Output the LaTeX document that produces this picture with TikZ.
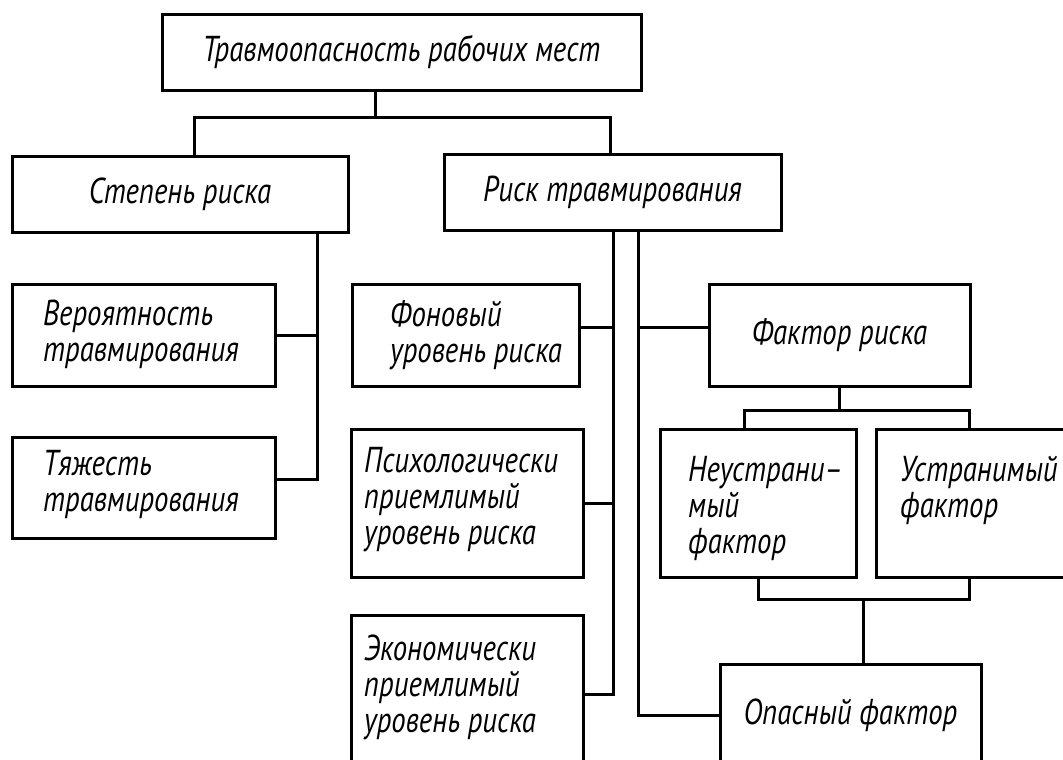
\documentclass[tikz,border=0pt]{standalone}
\usepackage{fontspec}
\newfontfamily\gost[FakeStretch=0.8]{PT Sans}
\begin{document}
\begin{tikzpicture}[x=1pt,y=-1pt,
  box/.style={draw, line width=3pt, inner sep=0pt, align=center,
    font=\gost\itshape\fontsize{36}{36}\selectfont},
  txt/.style={anchor=west, inner sep=0pt, align=left,
    font=\gost\itshape\fontsize{36}{36}\selectfont},
  conn/.style={line width=3pt, line join=miter, line cap=rect}]
\useasboundingbox (0,0) rectangle (1063,760);
% boxes
\node[box, minimum width=479, minimum height=75] (top) at (401.5,52.5) {Травмоопасность рабочих мест};
\node[box, minimum width=336, minimum height=76] (stepen) at (180,194) {Степень риска};
\node[box, minimum width=337, minimum height=76] (risk) at (612.5,192) {Риск травмирования};
\node[box, minimum width=263, minimum height=102] (ver) at (143.5,335) {};
\node[box, minimum width=263, minimum height=101] (tyazh) at (143.5,487.5) {};
\node[box, minimum width=227, minimum height=102] (fon) at (465.5,335) {};
\node[box, minimum width=232, minimum height=148] (psych) at (467,503) {};
\node[box, minimum width=232, minimum height=148] (econ) at (467,689) {};
\node[box, minimum width=261, minimum height=102] (faktor) at (839.5,335) {Фактор риска};
\node[box, minimum width=196, minimum height=148] (neustr) at (758,503) {};
\node[box, minimum width=196, minimum height=148] (ustr) at (974,503) {};
\node[box, minimum width=261, minimum height=102] (opas) at (850.5,715) {Опасный фактор};
% texts
\node[txt] (ver-t) at (43,334) {Вероятность\\травмирования};
\node[txt] (tyazh-t) at (43,484) {Тяжесть\\травмирования};
\node[txt] (fon-t) at (390,335) {Фоновый\\уровень риска};
\node[txt] (psych-t) at (364,499.5) {Психологически\\приемлимый\\уровень риска};
\node[txt] (econ-t) at (364,687) {Экономически\\приемлимый\\уровень риска};
\node[txt] (neustr-t) at (688,508) {Неустрани–\\мый\\фактор};
\node[txt] (ustr-t) at (900,490) {Устранимый\\фактор};
% junction coordinates
\coordinate (hT) at (375,117);
\coordinate (hL) at (194,117);
\coordinate (hR) at (610,117);
\coordinate (sv) at (317,479);
\coordinate (sb) at (317,335);
\coordinate (rl) at (613,694);
\coordinate (rl1) at (613,327);
\coordinate (rl2) at (613,503);
\coordinate (rr) at (638,715);
\coordinate (rr1) at (638,327);
\coordinate (fv) at (839,410);
\coordinate (fl) at (744,410);
\coordinate (fr) at (969,410);
\coordinate (bl) at (758,599);
\coordinate (br) at (969,599);
\coordinate (bm) at (863,599);
% connectors
\draw[conn] (top.south -| hT) -- (hT);
\draw[conn] (stepen.north -| hL) -- (hL) -- (hR) -- (risk.north -| hR);
\draw[conn] (stepen.south -| sv) -- (sv) -- (sv -| tyazh.east);
\draw[conn] (sb) -- (sb -| ver.east);
\draw[conn] (risk.south -| rl) -- (rl) -- (rl -| econ.east);
\draw[conn] (rl1) -- (rl1 -| fon.east);
\draw[conn] (rl2) -- (rl2 -| psych.east);
\draw[conn] (risk.south -| rr) -- (rr) -- (rr -| opas.west);
\draw[conn] (rr1) -- (rr1 -| faktor.west);
\draw[conn] (faktor.south -| fv) -- (fv);
\draw[conn] (neustr.north -| fl) -- (fl) -- (fr) -- (ustr.north -| fr);
\draw[conn] (neustr.south -| bl) -- (bl) -- (br) -- (ustr.south -| br);
\draw[conn] (bm) -- (opas.north -| bm);
\end{tikzpicture}
\end{document}
